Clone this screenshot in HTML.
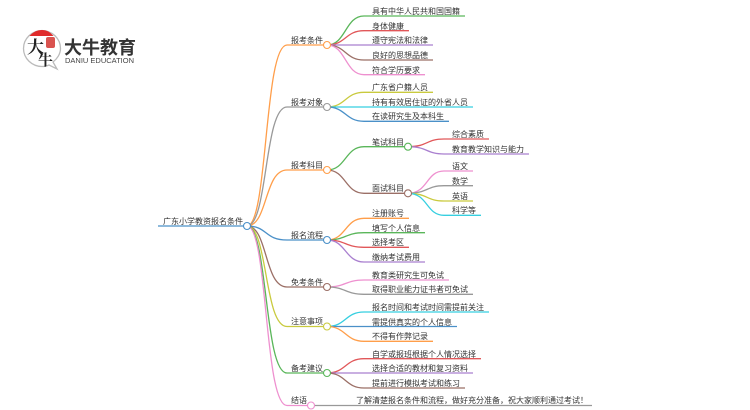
<!DOCTYPE html>
<html><head><meta charset="utf-8"><style>
html,body{margin:0;padding:0;background:#fff;width:750px;height:410px;overflow:hidden}
svg{display:block;filter:blur(.3px)}
text{font-family:"Liberation Sans","Noto Sans CJK SC",sans-serif;font-size:8px;fill:#333}
path{fill:none;stroke-width:1.300}
circle{fill:#fff;stroke-width:1.100}
</style></head><body>
<svg width="750" height="410" viewBox="0 0 750 410" xmlns="http://www.w3.org/2000/svg">
<!-- logo -->
<path d="M42 30.500C32 30.500 23.500 38.500 23.500 48.500C23.500 58.500 32 66.500 42 66.500C45 66.500 47 66 49 65L57 69L53 62C57 59 60.500 54 60.500 48.500C60.500 38.500 52 30.500 42 30.500Z" stroke="#bbb" stroke-width=".7"/>
<path d="M29.500 36C33 32 37 30 42 30C47 30 50 32 53.500 36Z" style="fill:#e02b2b;stroke:none"/>
<rect x="46" y="37" width="9" height="11" rx="2" fill="#d9534f"/>
<text x="27" y="53" style="font-size:17px;font-weight:700;fill:#222;font-family:'Noto Serif CJK SC',serif">大</text>
<text x="38" y="65" style="font-size:15px;font-weight:700;fill:#222;font-family:'Noto Serif CJK SC',serif">牛</text>
<text x="64" y="54" style="font-size:18px;font-weight:700;fill:#333">大牛教育</text>
<text x="65" y="63" textLength="69" lengthAdjust="spacingAndGlyphs" style="font-size:7px;fill:#444">DANIU EDUCATION</text>

<!-- root -->
<path d="M158 226H247" stroke="#4a90c8" stroke-width="1.500"/>
<!-- branches -->
<path d="M247 226C268 226 264 45 287 45H327" stroke="#ff9e4a"/>
<path d="M247 226C268 226 264 107 287 107H327" stroke="#999"/>
<path d="M247 226C268 226 264 170 287 170H327" stroke="#ff9e4a"/>
<path d="M247 226C268 226 264 240 287 240H327" stroke="#4a90c8"/>
<path d="M247 226C268 226 264 287 287 287H327" stroke="#9b6f66"/>
<path d="M247 226C268 226 264 326.500 287 326.500H327" stroke="#c9ca3e"/>
<path d="M247 226C268 226 264 373 287 373H327" stroke="#5ab65a"/>
<path d="M247 226C268 226 264 405.500 287 405.500H311" stroke="#ee90cf"/>

<!-- b1 leaves -->
<path d="M327 45C346 45 345 16 364 16H465" stroke="#5ab65a"/>
<path d="M327 45C346 45 345 30.700 364 30.700H409" stroke="#e15759"/>
<path d="M327 45H433" stroke="#a97fcf"/>
<path d="M327 45C346 45 345 60 364 60H433" stroke="#9b6f66"/>
<path d="M327 45C346 45 345 74.700 364 74.700H425" stroke="#ee90cf"/>
<!-- b2 leaves -->
<path d="M327 107C346 107 345 92.300 364 92.300H433" stroke="#c9ca3e"/>
<path d="M327 107H473" stroke="#36cfe0"/>
<path d="M327 107C346 107 345 121.300 364 121.300H449" stroke="#4a90c8"/>
<!-- b3 -->
<path d="M327 170C346 170 345 146.700 364 146.700H408" stroke="#5ab65a"/>
<path d="M327 170C346 170 345 193.300 364 193.300H408" stroke="#9b6f66"/>
<path d="M408 146.700C428 146.700 426 139 444 139H489" stroke="#e15759"/>
<path d="M408 146.700C428 146.700 426 154 444 154H529" stroke="#a97fcf"/>
<path d="M408 193.300C428 193.300 426 171 444 171H473" stroke="#ee90cf"/>
<path d="M408 193.300C428 193.300 426 185.700 444 185.700H473" stroke="#999"/>
<path d="M408 193.300C428 193.300 426 201 444 201H473" stroke="#c9ca3e"/>
<path d="M408 193.300C428 193.300 426 215.300 444 215.300H481" stroke="#36cfe0"/>
<!-- b4 -->
<path d="M327 240C346 240 345 218.300 364 218.300H409" stroke="#ff9e4a"/>
<path d="M327 240C346 240 345 232.700 364 232.700H425" stroke="#5ab65a"/>
<path d="M327 240C346 240 345 247.300 364 247.300H409" stroke="#e15759"/>
<path d="M327 240C346 240 345 262 364 262H425" stroke="#a97fcf"/>
<!-- b5 -->
<path d="M327 287C346 287 345 280 364 280H449" stroke="#ee90cf"/>
<path d="M327 287C346 287 345 294.300 364 294.300H473" stroke="#999"/>
<!-- b6 -->
<path d="M327 326.500C346 326.500 345 312 364 312H489" stroke="#36cfe0"/>
<path d="M327 326.500H457" stroke="#4a90c8"/>
<path d="M327 326.500C346 326.500 345 341.300 364 341.300H433" stroke="#ff9e4a"/>
<!-- b7 -->
<path d="M327 373C346 373 345 358.700 364 358.700H481" stroke="#e15759"/>
<path d="M327 373H473" stroke="#a97fcf"/>
<path d="M327 373C346 373 345 388 364 388H465" stroke="#9b6f66"/>
<!-- b8 -->
<path d="M311 405.500H592" stroke="#999"/>

<!-- circles -->
<circle cx="247" cy="226" r="3.500" stroke="#4a90c8"/>
<circle cx="327" cy="45" r="3.500" stroke="#ff9e4a"/>
<circle cx="327" cy="107" r="3.500" stroke="#999"/>
<circle cx="327" cy="170" r="3.500" stroke="#ff9e4a"/>
<circle cx="327" cy="240" r="3.500" stroke="#4a90c8"/>
<circle cx="327" cy="287" r="3.500" stroke="#9b6f66"/>
<circle cx="327" cy="326.500" r="3.500" stroke="#c9ca3e"/>
<circle cx="327" cy="373" r="3.500" stroke="#5ab65a"/>
<circle cx="311" cy="405.500" r="3.500" stroke="#ee90cf"/>
<circle cx="408" cy="146.700" r="3.500" stroke="#5ab65a"/>
<circle cx="408" cy="193.300" r="3.500" stroke="#9b6f66"/>

<!-- labels -->
<text x="163" y="224">广东小学教资报名条件</text>
<text x="291" y="43">报考条件</text>
<text x="291" y="105">报考对象</text>
<text x="291" y="168">报考科目</text>
<text x="291" y="238">报名流程</text>
<text x="291" y="285">免考条件</text>
<text x="291" y="324">注意事项</text>
<text x="291" y="371">备考建议</text>
<text x="291" y="403">结语</text>
<text x="372" y="14">具有中华人民共和国国籍</text>
<text x="372" y="29">身体健康</text>
<text x="372" y="43">遵守宪法和法律</text>
<text x="372" y="58">良好的思想品德</text>
<text x="372" y="73">符合学历要求</text>
<text x="372" y="90">广东省户籍人员</text>
<text x="372" y="105">持有有效居住证的外省人员</text>
<text x="372" y="119">在读研究生及本科生</text>
<text x="372" y="145">笔试科目</text>
<text x="372" y="191">面试科目</text>
<text x="452" y="137">综合素质</text>
<text x="452" y="152">教育教学知识与能力</text>
<text x="452" y="169">语文</text>
<text x="452" y="184">数学</text>
<text x="452" y="199">英语</text>
<text x="452" y="213">科学等</text>
<text x="372" y="216">注册账号</text>
<text x="372" y="231">填写个人信息</text>
<text x="372" y="245">选择考区</text>
<text x="372" y="260">缴纳考试费用</text>
<text x="372" y="278">教育类研究生可免试</text>
<text x="372" y="292">取得职业能力证书者可免试</text>
<text x="372" y="310">报名时间和考试时间需提前关注</text>
<text x="372" y="325">需提供真实的个人信息</text>
<text x="372" y="339">不得有作弊记录</text>
<text x="372" y="357">自学或报班根据个人情况选择</text>
<text x="372" y="371">选择合适的教材和复习资料</text>
<text x="372" y="386">提前进行模拟考试和练习</text>
<text x="356" y="403">了解清楚报名条件和流程，做好充分准备，祝大家顺利通过考试！</text>
</svg>
</body></html>
